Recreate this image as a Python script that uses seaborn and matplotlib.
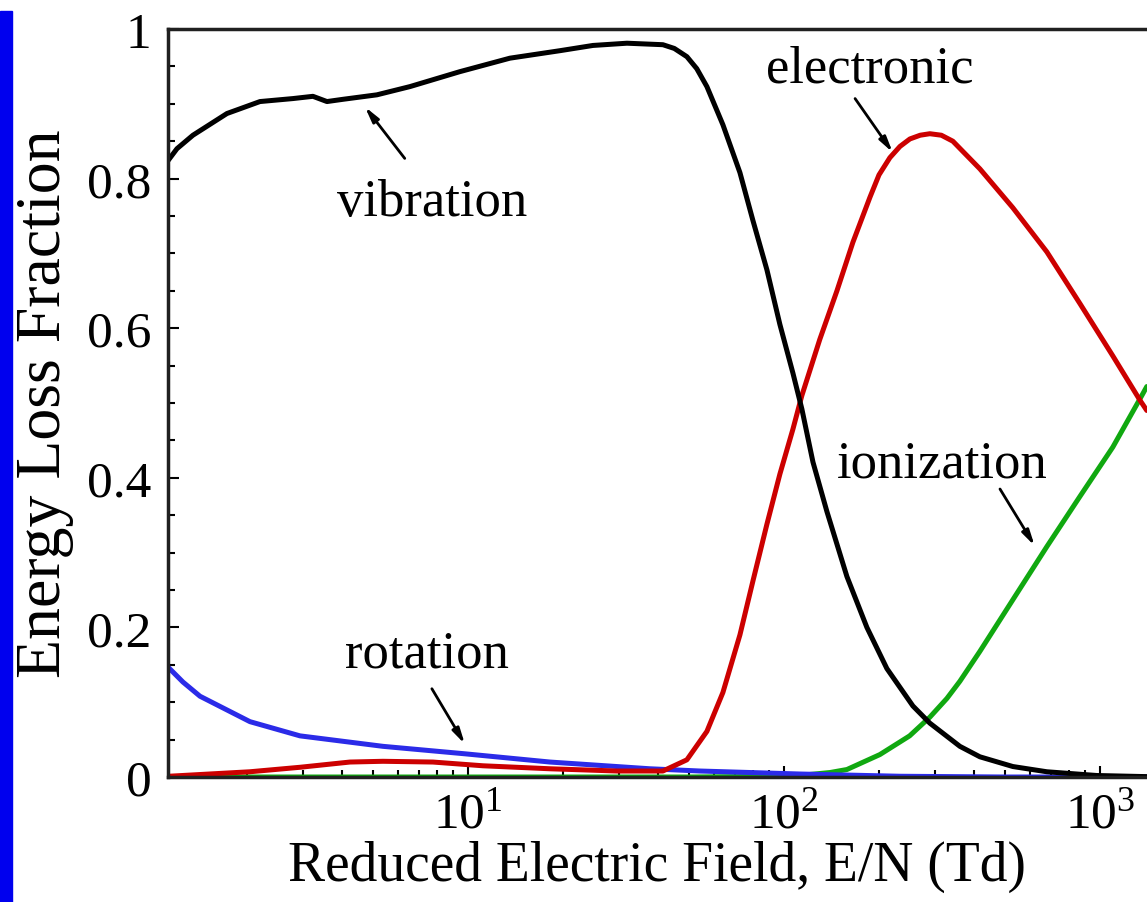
import numpy as np
import pandas as pd
import seaborn as sns
import matplotlib.pyplot as plt
from matplotlib.patches import Rectangle
from matplotlib.ticker import LogLocator, LogFormatterMathtext, FixedLocator, FixedFormatter, MultipleLocator

# reduced electric field E/N (Td) and energy loss fractions
vib_x = [1.124, 1.2, 1.348, 1.727, 2.197, 2.794, 3.232, 3.580, 4.022, 5.152, 6.554, 9.434,
         13.58, 19.55, 24.86, 31.86, 41.41, 45.0, 49.32, 53.0, 57.06, 64.12, 72.59, 79.80,
         88.37, 97.13, 106.8, 114.0, 123.6, 136.8, 158.3, 183.1, 211.8, 256.0, 289.7, 360.6,
         417.2, 530.5, 679.6, 978.3, 1408]
vib_y = [0.824, 0.840, 0.858, 0.887, 0.903, 0.907, 0.910, 0.903, 0.906, 0.912, 0.923, 0.943,
         0.961, 0.971, 0.978, 0.981, 0.979, 0.974, 0.963, 0.947, 0.923, 0.872, 0.808, 0.744,
         0.678, 0.605, 0.540, 0.492, 0.421, 0.355, 0.268, 0.200, 0.145, 0.095, 0.072, 0.041,
         0.027, 0.014, 0.007, 0.002, 0.0005]

ele_x = [1.131, 2.042, 2.941, 4.233, 5.383, 7.748, 11.16, 18.18, 29.62, 41.41, 49.32, 57.06,
         64.12, 72.59, 79.80, 88.37, 97.13, 106.8, 114.0, 129.9, 147.2, 165.4, 187.2, 200,
         216.5, 233, 250.5, 270, 289.7, 315, 342.6, 417.2, 530.5, 679.6, 864.6, 1099, 1338,
         1408]
ele_y = [0.001, 0.007, 0.013, 0.020, 0.021, 0.020, 0.015, 0.011, 0.008, 0.008, 0.023, 0.061,
         0.113, 0.190, 0.262, 0.338, 0.405, 0.465, 0.510, 0.585, 0.650, 0.715, 0.775, 0.805,
         0.828, 0.843, 0.853, 0.858, 0.860, 0.858, 0.850, 0.813, 0.761, 0.702, 0.633, 0.563,
         0.504, 0.490]

ion_x = [1.124, 10, 50, 100, 118.3, 140, 158.3, 201.3, 250, 289.7, 328.0, 360.6, 417.2,
         530.5, 679.6, 864.6, 1099, 1358, 1408]
ion_y = [0.0, 0.0, 0.0, 0.001, 0.003, 0.006, 0.010, 0.030, 0.055, 0.080, 0.105, 0.128, 0.168,
         0.237, 0.308, 0.375, 0.441, 0.510, 0.522]

rot_x = [1.124, 1.253, 1.419, 2.042, 2.941, 5.383, 9.79, 18.18, 37.66, 54.23, 112.4, 232.9,
         500, 1408]
rot_y = [0.147, 0.127, 0.108, 0.074, 0.055, 0.041, 0.031, 0.020, 0.011, 0.008, 0.004, 0.001,
         0.0, 0.0]

sns.set_style("ticks")
plt.rcParams['font.family'] = ['Liberation Serif', 'DejaVu Serif']
plt.rcParams['mathtext.fontset'] = 'custom'
plt.rcParams['mathtext.rm'] = 'Liberation Serif'
plt.rcParams['mathtext.it'] = 'Liberation Serif:italic'
plt.rcParams['text.color'] = 'black'
plt.rcParams['axes.labelcolor'] = 'black'

fig = plt.figure(figsize=(11.47, 9.03), dpi=100)
ax = fig.add_axes([168/1147, 1-778/903, 1-168/1147, (778-30)/903])

# blue strip at the left edge of the picture
fig.patches.append(Rectangle((0, 0), 12/1147, 1-12/903, transform=fig.transFigure,
                             color='#0000ee', zorder=0))

lw = 3.6
line_kw = dict(lw=lw, ax=ax, sort=False, solid_joinstyle='round', solid_capstyle='round')
sns.lineplot(x=ion_x, y=ion_y, color='#10a810', **line_kw)
sns.lineplot(x=rot_x, y=rot_y, color='#2b2be8', **line_kw)
sns.lineplot(x=ele_x, y=ele_y, color='#cc0000', **line_kw)
sns.lineplot(x=vib_x, y=vib_y, color='black', **line_kw)

ax.set_xscale('log')
ax.set_xlim(1.124, 1410)
ax.set_ylim(0, 1)

ax.xaxis.set_major_locator(LogLocator(base=10))
ax.xaxis.set_minor_locator(LogLocator(base=10, subs=np.arange(2, 10)))
ax.xaxis.set_major_formatter(LogFormatterMathtext())
ax.yaxis.set_major_locator(FixedLocator([0, 0.2, 0.4, 0.6, 0.8, 1.0]))
ax.yaxis.set_major_formatter(FixedFormatter(['0', '0.2', '0.4', '0.6', '0.8', '1']))
ax.yaxis.set_minor_locator(MultipleLocator(0.05))

ax.tick_params(which='both', direction='in', labelsize=37, width=1.5,
               colors='black', labelcolor='black')
ax.tick_params(which='major', length=8)
ax.tick_params(which='minor', length=5)
ax.tick_params(axis='y', pad=12)
ax.tick_params(axis='x', pad=10)

for side in ['left', 'bottom', 'top']:
    ax.spines[side].set_linewidth(2.5)
    ax.spines[side].set_color('#202020')
ax.spines['right'].set_visible(False)

ax.set_xlabel('Reduced Electric Field, E/N (Td)', fontsize=40, labelpad=2)
ax.set_ylabel('Energy Loss Fraction', fontsize=46, labelpad=9)

# labels with arrows
arrow = dict(arrowstyle='-|>,head_length=0.9,head_width=0.22', lw=2, color='black',
             shrinkA=0, shrinkB=0)
labels = [('vibration', 7.69, 0.769, (6.31, 0.827), (4.72, 0.896)),
          ('electronic', 187, 0.947, (168, 0.907), (221, 0.835)),
          ('ionization', 316, 0.419, (483, 0.385), (622, 0.309)),
          ('rotation', 7.42, 0.165, (7.69, 0.118), (9.78, 0.044))]
for name, tx, ty, tail, head in labels:
    ax.text(tx, ty, name, fontsize=38, ha='center', va='center')
    ax.annotate('', xy=head, xytext=tail, arrowprops=arrow)

fig.savefig('out.png', dpi=100)
